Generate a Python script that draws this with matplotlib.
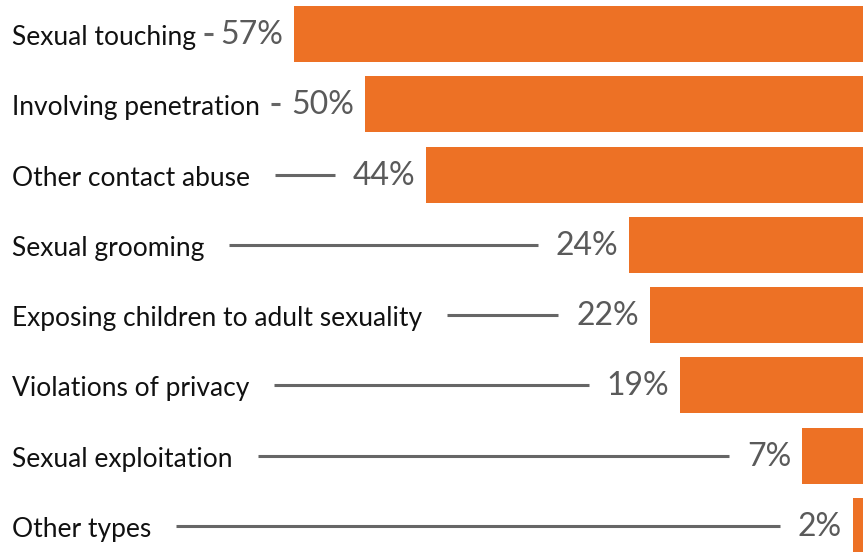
import matplotlib
matplotlib.use("Agg")
import matplotlib.pyplot as plt
from matplotlib.transforms import blended_transform_factory, offset_copy

categories = ["Sexual touching", "Involving penetration", "Other contact abuse",
              "Sexual grooming", "Exposing children to adult sexuality",
              "Violations of privacy", "Sexual exploitation", "Other types"]
values = [57, 50, 44, 24, 22, 19, 7, 2]
labels = ["57%", "50%", "44%", "24%", "22%", "19%", "7%", "2%"]

W, H, DPI = 863, 552, 100
fig = plt.figure(figsize=(W / DPI, H / DPI), dpi=DPI)
ax = fig.add_axes([0, 0, 1, 1])
ax.set_axis_off()

pitch = 70.3
c0 = 34
ax.set_ylim((H - c0) / pitch, -c0 / pitch)
ax.set_xlim(85.95, 1.01)

ys = list(range(len(categories)))
ax.barh(ys, values, height=56 / pitch, color="#ED7125", left=0)

tr = offset_copy(blended_transform_factory(ax.transAxes, ax.transData),
                 fig=fig, x=0, y=-11, units="dots")
tp = offset_copy(ax.transData, fig=fig, x=-11, y=-10, units="dots")
cat_texts = []
pct_texts = []
for i, (c, v, l) in enumerate(zip(categories, values, labels)):
    t = ax.text(12 / W, i, c, transform=tr, ha="left", va="baseline",
                fontsize=19, family="Lato", color="#111111")
    cat_texts.append(t)
    p = ax.text(v, i, l, transform=tp,
                ha="right", va="baseline", fontsize=23, family="Lato", color="#5a5a5a")
    pct_texts.append(p)

fig.canvas.draw()
r = fig.canvas.get_renderer()
inv = ax.transData.inverted()
for i, (t, p) in enumerate(zip(cat_texts, pct_texts)):
    e1 = t.get_window_extent(r).x1
    e2 = p.get_window_extent(r).x0
    gap = e2 - e1
    if gap > 25 + 18 + 9:
        s, e = e1 + 25, e2 - 18
    else:
        pad = (gap - 9) / 2
        s, e = e1 + pad, e2 - pad
    xs = inv.transform([(s, 0), (e, 0)])[:, 0]
    ax.plot(xs, [i, i], color="#666666", lw=2.2, solid_capstyle="butt")

fig.savefig("out.png", dpi=DPI)
